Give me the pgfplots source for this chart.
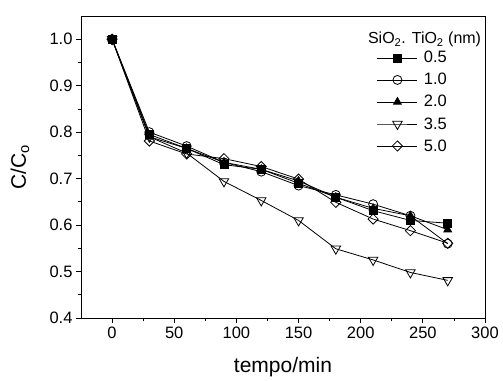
\documentclass[border=0pt]{standalone}
\usepackage{pgfplots}
\pgfplotsset{compat=1.18}
\usepackage{fontspec}
\setmainfont{Liberation Sans}
\begin{document}
\begin{tikzpicture}[x=1pt,y=1pt]
\begin{axis}[
  name=ax,
  at={(0,0)}, anchor=south west,
  scale only axis, width=404pt, height=302pt,
  xmin=-25, xmax=300, ymin=0.4, ymax=1.05,
  xtick={0,50,...,300}, ytick={0.4,0.5,...,1.0},
  minor x tick num=1, minor y tick num=1,
  tick align=outside, tick pos=left,
  major tick length=5pt, minor tick length=3pt,
  tick style={black, line width=0.7pt},
  axis line style={line width=0.9pt},
  /pgf/number format/assume math mode=true,
  yticklabel style={/pgf/number format/fixed, /pgf/number format/fixed zerofill, /pgf/number format/precision=1},
  ticklabel style={font=\fontsize{16.5}{18}\selectfont},
  xlabel={tempo/min}, ylabel={C/C\textsubscript{o}},
  label style={font=\fontsize{21}{24}\selectfont},
  xlabel style={at={(axis description cs:0.5,0)}, anchor=center, yshift=-49pt},
  ylabel style={at={(axis description cs:0,0.5)}, anchor=center, yshift=61pt},
  legend style={draw=none, fill=none, at={(axis description cs:0.71,0.89)}, anchor=north west, xshift=9pt,
    font=\fontsize{16.5}{18}\selectfont, row sep=5pt, column sep=4pt, inner sep=0pt, cells={anchor=west}},
  legend image code/.code={\draw[mark repeat=2,mark phase=2,#1] plot coordinates {(0pt,0pt)(20pt,0pt)(40pt,0pt)};},
  every axis plot/.append style={black, line width=0.8pt, mark options={solid, line width=0.8pt}},
]
\addplot[mark=square*, mark size=4pt] coordinates {(0,1.0)(30,0.795)(60,0.765)(90,0.73)(120,0.72)(150,0.69)(180,0.66)(210,0.631)(240,0.61)(270,0.604)};
\addlegendentry{0.5}
\addplot[mark=o, mark size=4.5pt, mark options={fill=white}] coordinates {(0,1.0)(30,0.80)(60,0.77)(90,0.735)(120,0.715)(150,0.685)(180,0.665)(210,0.645)(240,0.62)(270,0.56)};
\addlegendentry{1.0}
\addplot[mark=triangle*, mark size=4.5pt] coordinates {(0,1.0)(30,0.79)(60,0.765)(90,0.735)(120,0.72)(150,0.695)(180,0.66)(210,0.636)(240,0.62)(270,0.59)};
\addlegendentry{2.0}
\addplot[mark=triangle, mark size=5.5pt, mark options={rotate=180, fill=white}] coordinates {(0,1.0)(30,0.79)(60,0.755)(90,0.694)(120,0.653)(150,0.61)(180,0.549)(210,0.525)(240,0.498)(270,0.481)};
\addlegendentry{3.5}
\addplot[mark=square, mark size=3.6pt, mark options={rotate=45, fill=white}] coordinates {(0,1.0)(30,0.781)(60,0.753)(90,0.743)(120,0.726)(150,0.699)(180,0.649)(210,0.613)(240,0.588)(270,0.561)};
\addlegendentry{5.0}
\node[anchor=west, inner sep=0pt, font=\fontsize{16}{18}\selectfont] at (axis description cs:0.71,0.922) {SiO\textsubscript{2}. TiO\textsubscript{2} (nm)};
\end{axis}
\path (-81,-61) rectangle (422,318);
\end{tikzpicture}
\end{document}
